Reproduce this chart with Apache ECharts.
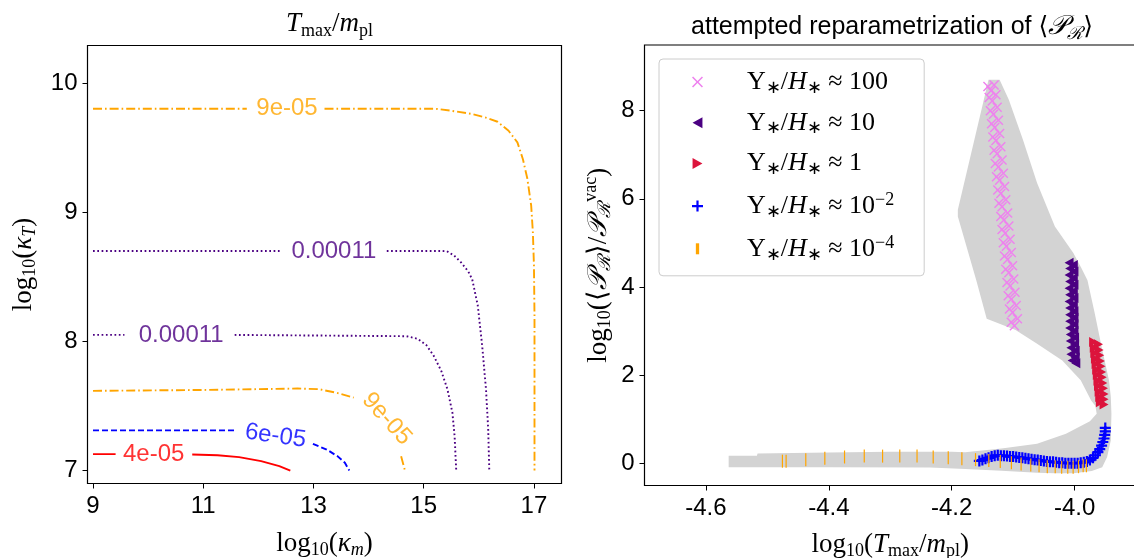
<!DOCTYPE html>
<html>
<head>
<meta charset="utf-8">
<script src="https://cdn.jsdelivr.net/npm/echarts@6/dist/echarts.min.js"></script>
<style>
  html, body { margin: 0; padding: 0; background: #fff; overflow: hidden; }
  #main { width: 1134px; height: 558px; }
</style>
</head>
<body>
<div id="main"></div>
<script>
// ---- left panel: contour lines of T_max/m_pl, split where the inline label sits
var kmTicks = [9, 11, 13, 15, 17];
var kTTicks = [7, 8, 9, 10];

var orangeTopA = [[9, 9.80], [11.79, 9.80]];
var orangeTopB = [[13.2, 9.80], [15.22, 9.80], [15.48, 9.786], [15.88, 9.76], [16.14, 9.73], [16.34, 9.70],
  [16.54, 9.63], [16.70, 9.54], [16.80, 9.41], [16.88, 9.26], [16.95, 9.05], [16.98, 8.85], [17.0, 8.59],
  [17.01, 8.2], [17.01, 7.0]];
var purpleTopA = [[9, 8.70], [12.41, 8.70]];
var purpleTopB = [[14.33, 8.70], [15.28, 8.70], [15.42, 8.698], [15.55, 8.665], [15.68, 8.61], [15.81, 8.54],
  [15.88, 8.48], [15.98, 8.28], [16.06, 7.97], [16.13, 7.63], [16.17, 7.32], [16.19, 7.0]];
var purpleLowA = [[9, 8.05], [9.57, 8.05]];
var purpleLowB = [[11.57, 8.05], [14.69, 8.04], [14.89, 8.02], [15.05, 7.97], [15.18, 7.89], [15.32, 7.77],
  [15.43, 7.63], [15.52, 7.45], [15.56, 7.27], [15.59, 7.0]];
var orangeLowA = [[9, 7.617], [11.0, 7.624], [12.71, 7.635], [13.1, 7.63], [13.44, 7.60], [13.73, 7.565]];
var orangeLowB = [[14.59, 7.11], [14.66, 7.0]];
var blueA = [[9, 7.311], [11.59, 7.311]];
var blueB = [[12.99, 7.207], [13.24, 7.163], [13.44, 7.11], [13.57, 7.06], [13.65, 7.0]];
var redA = [[9, 7.127], [9.41, 7.127]];
var redB = [[10.8, 7.124], [11.26, 7.119], [11.65, 7.104], [12.05, 7.073], [12.38, 7.034], [12.58, 7.0]];

// inline contour labels: [x, y, text, rotation, colour]
var contourLabels = [
  [12.52, 9.80, '9e-05', 0, 'orange'],
  [13.37, 8.70, '0.00011', 0, 'indigo'],
  [10.6, 8.05, '0.00011', 0, 'indigo'],
  [14.33, 7.40, '9e-05', -48, 'orange'],
  [12.31, 7.267, '6e-05', -8, 'blue'],
  [10.1, 7.127, '4e-05', 0, 'red']
];

// ---- right panel
var tTicks = [-4.6, -4.4, -4.2, -4.0];
var pTicks = [0, 2, 4, 6, 8];

// outline of the grey region covered by the scan
var greyRegion = [
  [-4.140, 8.70], [-4.122, 8.70], [-4.107, 8.25], [-4.084, 7.34], [-4.061, 6.36], [-4.032, 5.37],
  [-4.002, 4.77], [-3.990, 4.46], [-3.979, 4.15], [-3.967, 3.39], [-3.956, 2.64], [-3.944, 1.88],
  [-3.941, 1.50], [-3.940, 1.12], [-3.941, 0.52], [-3.947, 0.14], [-3.955, -0.09], [-3.972, -0.18],
  [-4.002, -0.23], [-4.032, -0.23], [-4.061, -0.22], [-4.119, -0.17], [-4.178, -0.13], [-4.235, -0.10],
  [-4.400, -0.09], [-4.563, -0.09], [-4.563, 0.17], [-4.517, 0.17], [-4.516, 0.22], [-4.400, 0.24],
  [-4.300, 0.26], [-4.200, 0.26], [-4.178, 0.25], [-4.119, 0.33], [-4.061, 0.44], [-4.014, 0.67],
  [-3.975, 0.95], [-3.964, 1.12], [-3.966, 1.30], [-3.973, 1.42], [-3.990, 1.88], [-4.020, 2.33],
  [-4.061, 2.71], [-4.096, 3.02], [-4.143, 3.28], [-4.160, 4.15], [-4.190, 5.60], [-4.190, 5.75]
];

var ups100 = [
  [-4.141, 8.55], [-4.131, 8.58], [-4.136, 8.45], [-4.139, 8.30], [-4.128, 8.36], [-4.134, 8.22],
  [-4.137, 8.00], [-4.126, 8.08], [-4.132, 7.92], [-4.135, 7.70], [-4.124, 7.78], [-4.130, 7.62],
  [-4.133, 7.40], [-4.122, 7.48], [-4.128, 7.32], [-4.131, 7.10], [-4.120, 7.18], [-4.126, 7.02],
  [-4.129, 6.80], [-4.118, 6.88], [-4.124, 6.72], [-4.127, 6.50], [-4.116, 6.58], [-4.122, 6.42],
  [-4.125, 6.20], [-4.114, 6.28], [-4.120, 6.12], [-4.123, 5.90], [-4.112, 5.98], [-4.118, 5.82],
  [-4.120, 5.60], [-4.109, 5.68], [-4.115, 5.52], [-4.118, 5.30], [-4.107, 5.38], [-4.113, 5.22],
  [-4.116, 5.00], [-4.105, 5.08], [-4.111, 4.92], [-4.114, 4.70], [-4.103, 4.78], [-4.109, 4.62],
  [-4.112, 4.40], [-4.101, 4.48], [-4.107, 4.32], [-4.110, 4.10], [-4.099, 4.18], [-4.105, 4.02],
  [-4.108, 3.80], [-4.097, 3.88], [-4.103, 3.72], [-4.106, 3.50], [-4.095, 3.58], [-4.101, 3.42],
  [-4.103, 3.20], [-4.093, 3.28], [-4.098, 3.12]];
var ups10 = [
  [-4.009, 4.55], [-4.002, 4.50], [-4.008, 4.42], [-4.001, 4.35], [-4.009, 4.27], [-4.002, 4.20],
  [-4.008, 4.12], [-4.001, 4.05], [-4.009, 3.97], [-4.002, 3.90], [-4.008, 3.82], [-4.001, 3.75],
  [-4.009, 3.67], [-4.002, 3.60], [-4.008, 3.52], [-4.001, 3.45], [-4.008, 3.37], [-4.001, 3.30],
  [-4.008, 3.22], [-4.001, 3.15], [-4.008, 3.07], [-4.001, 3.00], [-4.007, 2.92], [-4.000, 2.85],
  [-4.007, 2.77], [-4.000, 2.70], [-4.006, 2.62], [-3.999, 2.55], [-4.006, 2.47], [-3.999, 2.40],
  [-4.004, 2.33], [-3.998, 2.27]];
var ups1 = [
  [-3.969, 2.75], [-3.961, 2.70], [-3.968, 2.62], [-3.960, 2.57], [-3.967, 2.50], [-3.959, 2.45],
  [-3.966, 2.37], [-3.958, 2.32], [-3.965, 2.25], [-3.957, 2.20], [-3.964, 2.12], [-3.956, 2.07],
  [-3.963, 2.00], [-3.955, 1.95], [-3.962, 1.87], [-3.954, 1.82], [-3.961, 1.75], [-3.953, 1.70],
  [-3.960, 1.62], [-3.952, 1.57], [-3.959, 1.50], [-3.952, 1.45], [-3.958, 1.38], [-3.952, 1.33]];
var upsM2 = [[-4.155, 0.05], [-4.150, 0.07], [-4.145, 0.10], [-4.140, 0.12], [-4.135, 0.15], [-4.130, 0.17],
  [-4.125, 0.18], [-4.120, 0.17], [-4.115, 0.17], [-4.110, 0.16], [-4.105, 0.15], [-4.100, 0.15],
  [-4.095, 0.14], [-4.090, 0.13], [-4.085, 0.12], [-4.080, 0.11], [-4.075, 0.10], [-4.070, 0.09],
  [-4.065, 0.08], [-4.060, 0.07], [-4.055, 0.06], [-4.050, 0.05], [-4.045, 0.04], [-4.040, 0.03],
  [-4.035, 0.03], [-4.030, 0.02], [-4.025, 0.01], [-4.020, 0.01], [-4.015, 0.00], [-4.010, 0.00],
  [-4.005, 0.00], [-4.000, 0.00], [-3.995, 0.00], [-3.990, 0.01], [-3.985, 0.02], [-3.980, 0.04],
  [-3.975, 0.07], [-3.970, 0.12], [-3.966, 0.18], [-3.962, 0.25], [-3.959, 0.32], [-3.956, 0.40],
  [-3.954, 0.48], [-3.952, 0.56], [-3.951, 0.64], [-3.950, 0.72], [-3.950, 0.80]];
var upsM4 = [[-4.4755, 0.045], [-4.4695, 0.045], [-4.4375, 0.08], [-4.4065, 0.11], [-4.3744, 0.14],
  [-4.3423, 0.16], [-4.3125, 0.16], [-4.2845, 0.16], [-4.2564, 0.16], [-4.2301, 0.14], [-4.2056, 0.12],
  [-4.1834, 0.10], [-4.1612, 0.08], [-4.1396, 0.06], [-4.1209, 0.04], [-4.1028, 0.01], [-4.0870, -0.02],
  [-4.0713, -0.04], [-4.0578, -0.06], [-4.0444, -0.08], [-4.0315, -0.08], [-4.0210, -0.09], [-4.0111, -0.09],
  [-4.0023, -0.09], [-3.9936, -0.08], [-3.9860, -0.06], [-3.9807, -0.06]];

var serif = 'Liberation Serif';
var sans = 'Liberation Sans';
var mathRich = {
  n: { fontFamily: serif, fontWeight: 'normal', fontSize: 27, lineHeight: 32, color: '#000' },
  i: { fontFamily: serif, fontWeight: 'normal', fontStyle: 'italic', fontSize: 27, lineHeight: 32, color: '#000' },
  sub: { fontFamily: serif, fontWeight: 'normal', fontSize: 18, lineHeight: 14, verticalAlign: 'bottom', color: '#000' },
  subi: { fontFamily: serif, fontWeight: 'normal', fontStyle: 'italic', fontSize: 18, lineHeight: 14, verticalAlign: 'bottom', color: '#000' },
  sup: { fontFamily: serif, fontWeight: 'normal', fontSize: 18, lineHeight: 14, verticalAlign: 'top', color: '#000' },
  a: { fontFamily: 'DejaVu Serif', fontWeight: 'normal', fontSize: 25, lineHeight: 32, color: '#000' },
  s: { fontFamily: sans, fontWeight: 'normal', fontSize: 25, lineHeight: 32, color: '#000' }
};

var legendNames = ['100', '10', '1', '1e-2', '1e-4'];
var legendText = {
  '100': '{n| ≈ 100}',
  '10': '{n| ≈ 10}',
  '1': '{n| ≈ 1}',
  '1e-2': '{n| ≈ 10}{sup|−2}',
  '1e-4': '{n| ≈ 10}{sup|−4}'
};

function lineSeries(data, color, type) {
  return {
    type: 'line', xAxisIndex: 0, yAxisIndex: 0, data: data,
    showSymbol: false, symbol: 'none', silent: true, animation: false,
    lineStyle: { color: color, width: 1.9, type: type }
  };
}
var dashDot = [9, 3, 1.6, 3];
var dotted = [1.7, 2.6];
var dashed = [6, 3];

var chart = echarts.init(document.getElementById('main'));

var tickLabel = { color: '#000', fontFamily: sans, fontSize: 24 };

var option = {
  backgroundColor: '#fff',
  animation: false,
  title: [
    {
      text: '{i|T}{sub|max}{n|/}{i|m}{sub|pl}',
      left: 324.5, top: 3, textAlign: 'center',
      textStyle: { fontWeight: 'normal', rich: mathRich }
    },
    {
      text: '{s|attempted reparametrization of }{a|⟨}{i|𝒫}{subi|ℛ}{a|⟩}',
      left: 887, top: 6, textAlign: 'center',
      textStyle: { fontWeight: 'normal', rich: mathRich }
    }
  ],
  grid: [
    { left: 87.5, top: 45.5, width: 474, height: 438, outerBoundsMode: 'none', containLabel: false,
      show: true, borderColor: '#000', borderWidth: 1.2, backgroundColor: 'transparent' },
    { left: 644.5, top: 45, width: 491.5, height: 440.5, outerBoundsMode: 'none', containLabel: false,
      show: true, borderColor: '#000', borderWidth: 1.2, backgroundColor: 'transparent' }
  ],
  xAxis: [
    {
      gridIndex: 0, type: 'value', min: 8.9, max: 17.5,
      axisLine: { show: false, onZero: false },
      axisTick: { customValues: kmTicks, length: 5, lineStyle: { color: '#000' } },
      axisLabel: Object.assign({ customValues: kmTicks, margin: 11 }, tickLabel),
      splitLine: { show: false },
      name: '{n|log}{sub|10}{n|(}{i|κ}{subi|m}{n|)}',
      nameLocation: 'middle', nameGap: 44,
      nameTextStyle: { rich: mathRich }
    },
    {
      gridIndex: 1, type: 'value', min: -4.7, max: -3.9,
      axisLine: { show: false, onZero: false },
      axisTick: { customValues: tTicks, length: 5, lineStyle: { color: '#000' } },
      axisLabel: Object.assign({ customValues: tTicks, margin: 11, formatter: function (v) { return v.toFixed(1); } }, tickLabel),
      splitLine: { show: false },
      name: '{n|log}{sub|10}{n|(}{i|T}{sub|max}{n|/}{i|m}{sub|pl}{n|)}',
      nameLocation: 'middle', nameGap: 43,
      nameTextStyle: { rich: mathRich }
    }
  ],
  yAxis: [
    {
      gridIndex: 0, type: 'value', min: 6.9, max: 10.29,
      axisLine: { show: false, onZero: false },
      axisTick: { customValues: kTTicks, length: 5, lineStyle: { color: '#000' } },
      axisLabel: Object.assign({ customValues: kTTicks, margin: 10 }, tickLabel),
      splitLine: { show: false },
      name: '{n|log}{sub|10}{n|(}{i|κ}{subi|T}{n|)}',
      nameLocation: 'middle', nameGap: 48,
      nameTextStyle: { rich: mathRich }
    },
    {
      gridIndex: 1, type: 'value', min: -0.507, max: 9.49,
      axisLine: { show: false, onZero: false },
      axisTick: { customValues: pTicks, length: 5, lineStyle: { color: '#000' } },
      axisLabel: Object.assign({ customValues: pTicks, margin: 10 }, tickLabel),
      splitLine: { show: false },
      name: '{n|log}{sub|10}{n|(⟨}{i|𝒫}{subi|ℛ}{n|⟩/}{i|𝒫}{subi|ℛ}{sup|vac}{n|)}',
      nameLocation: 'middle', nameGap: 30,
      nameTextStyle: { rich: mathRich }
    }
  ],
  legend: {
    data: legendNames,
    orient: 'vertical',
    left: 659, top: 59,
    padding: [10, 30, 12, 33],
    itemGap: 12.7,
    itemWidth: 11, itemHeight: 11,
    backgroundColor: 'rgba(255,255,255,0.8)',
    borderColor: '#cccccc', borderWidth: 1, borderRadius: 4,
    selectedMode: false,
    formatter: function (name) {
      return '{g|}{n|Υ}{sub|∗}{n|/}{i|H}{sub|∗}' + legendText[name];
    },
    textStyle: {
      rich: Object.assign({ g: { width: 39, lineHeight: 30 } }, mathRich, {
        n: { fontFamily: serif, fontSize: 26, lineHeight: 30, color: '#000' },
        i: { fontFamily: serif, fontStyle: 'italic', fontSize: 26, lineHeight: 30, color: '#000' }
      })
    }
  },
  series: [
    lineSeries(orangeTopA, 'orange', dashDot),
    lineSeries(orangeTopB, 'orange', dashDot),
    lineSeries(purpleTopA, 'indigo', dotted),
    lineSeries(purpleTopB, 'indigo', dotted),
    lineSeries(purpleLowA, 'indigo', dotted),
    lineSeries(purpleLowB, 'indigo', dotted),
    lineSeries(orangeLowA, 'orange', dashDot),
    lineSeries(orangeLowB, 'orange', dashDot),
    lineSeries(blueA, 'blue', dashed),
    lineSeries(blueB, 'blue', dashed),
    lineSeries(redA, 'red', 'solid'),
    lineSeries(redB, 'red', 'solid'),
    {
      type: 'scatter', xAxisIndex: 0, yAxisIndex: 0, symbolSize: 0, silent: true,
      data: contourLabels.map(function (d) {
        return {
          value: [d[0], d[1]],
          label: { show: true, position: 'inside', formatter: d[2], rotate: d[3], color: d[4],
            fontFamily: sans, fontSize: 24 }
        };
      })
    },
    {
      type: 'custom', xAxisIndex: 1, yAxisIndex: 1, silent: true,
      data: [greyRegion[0]],
      renderItem: function (params, api) {
        return {
          type: 'polygon',
          shape: { points: greyRegion.map(function (p) { return api.coord(p); }) },
          style: { fill: '#d3d3d3' }
        };
      }
    },
    {
      name: '100', type: 'scatter', xAxisIndex: 1, yAxisIndex: 1, data: ups100,
      symbol: 'path://M1,0L5,4L9,0L10,1L6,5L10,9L9,10L5,6L1,10L0,9L4,5L0,1Z',
      symbolSize: 10, symbolKeepAspect: true, itemStyle: { color: 'violet', opacity: 1 }
    },
    {
      name: '10', type: 'scatter', xAxisIndex: 1, yAxisIndex: 1, data: ups10,
      symbol: 'path://M0,5L9,0L9,10Z', symbolSize: 10, symbolKeepAspect: true,
      itemStyle: { color: 'indigo', opacity: 1 }
    },
    {
      name: '1', type: 'scatter', xAxisIndex: 1, yAxisIndex: 1, data: ups1,
      symbol: 'path://M10,5L1,0L1,10Z', symbolSize: 10, symbolKeepAspect: true,
      itemStyle: { color: 'crimson', opacity: 1 }
    },
    {
      name: '1e-2', type: 'scatter', xAxisIndex: 1, yAxisIndex: 1, data: upsM2,
      symbol: 'path://M4,0H6V4H10V6H6V10H4V6H0V4H4Z', symbolSize: 11, symbolKeepAspect: true,
      itemStyle: { color: 'blue', opacity: 1 }
    },
    {
      name: '1e-4', type: 'scatter', xAxisIndex: 1, yAxisIndex: 1, data: upsM4,
      symbol: 'path://M0,0H3V10H0Z', symbolSize: [4, 13], symbolKeepAspect: true,
      itemStyle: { color: 'orange', opacity: 1 }
    }
  ]
};

chart.setOption(option);
</script>
</body>
</html>
